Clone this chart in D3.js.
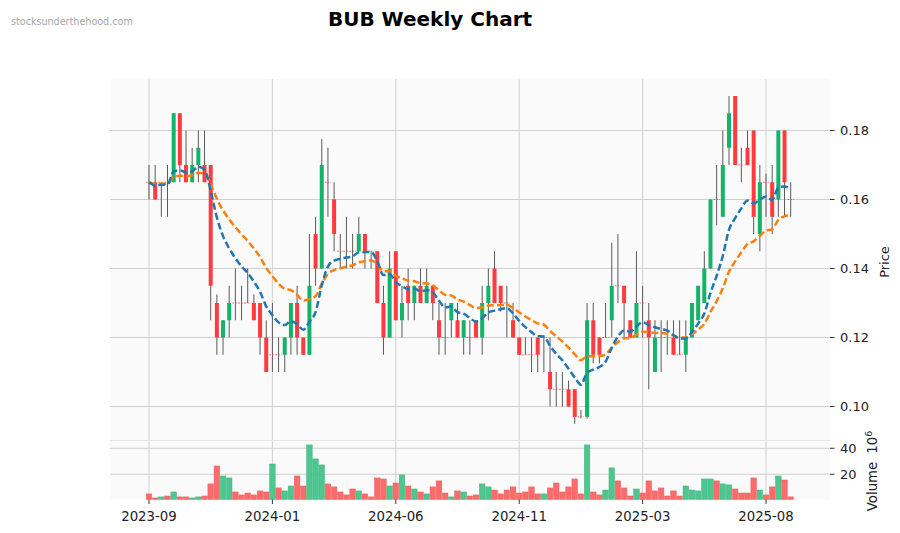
<!DOCTYPE html>
<html><head><meta charset="utf-8">
<script src="https://cdn.jsdelivr.net/npm/d3@7"></script>
<style>body{margin:0;background:#fff}svg{display:block;font-family:"DejaVu Sans",sans-serif}</style>
</head><body><svg id="c" width="900" height="533"></svg>
<script>
// ---- data ----
const tickIndex = [0, 20, 40, 60, 80, 100];
const tickLabels = ["2023-09", "2024-01", "2024-06", "2024-11", "2025-03", "2025-08"];
const priceTicks = [0.10, 0.12, 0.14, 0.16, 0.18];
const volumeTicks = [20, 40];

const open = [.165,.165,.165,.165,.165,.185,.17,.165,.17,.17,
.17,.13,.12,.125,.13,.13,.13,.13,.13,.12,
.115,.115,.115,.12,.13,.12,.115,.15,.14,.165,
.16,.145,.145,.145,.145,.15,.145,.145,.13,.12,
.145,.125,.135,.13,.135,.13,.135,.125,.12,.125,
.125,.12,.12,.125,.12,.13,.14,.135,.13,.125,
.12,.115,.115,.12,.12,.11,.105,.105,.105,.105,
.097,.097,.125,.12,.12,.125,.135,.135,.125,.12,
.13,.125,.11,.12,.12,.12,.115,.115,.12,.125,
.13,.14,.16,.155,.175,.19,.17,.175,.18,.15,
.165,.165,.16,.18,.16];
const high = [.17,.17,.165,.17,.185,.185,.18,.175,.18,.18,
.17,.1325,.125,.135,.14,.135,.14,.1325,.13,.125,
.13,.12,.12,.13,.135,.12,.15,.155,.1775,.175,
.165,.15,.155,.15,.155,.15,.145,.145,.135,.145,
.145,.135,.14,.135,.14,.14,.135,.13,.13,.13,
.13,.125,.125,.125,.135,.14,.145,.135,.135,.13,
.12,.12,.12,.12,.12,.12,.11,.11,.1075,.105,
.099,.13,.13,.12,.13,.1475,.15,.135,.125,.145,
.135,.13,.125,.125,.125,.125,.125,.125,.13,.135,
.145,.16,.17,.18,.19,.19,.175,.18,.18,.17,
.1675,.17,.18,.18,.165];
const low = [.16,.16,.155,.155,.165,.165,.165,.165,.165,.165,
.125,.115,.115,.12,.125,.125,.13,.125,.115,.11,
.11,.11,.11,.115,.115,.115,.115,.135,.14,.155,
.145,.14,.14,.14,.145,.14,.14,.13,.115,.12,
.125,.12,.125,.125,.13,.13,.125,.115,.115,.12,
.12,.115,.115,.12,.115,.125,.13,.1275,.12,.12,
.115,.115,.11,.11,.11,.10,.10,.10,.10,.095,
.0965,.0965,.1125,.1125,.12,.12,.13,.12,.12,.12,
.12,.105,.11,.11,.115,.115,.115,.11,.12,.125,
.13,.14,.1525,.155,.17,.17,.165,.17,.15,.145,
.155,.15,.155,.155,.155];
const close = [.165,.16,.165,.165,.185,.17,.165,.17,.175,.165,
.135,.12,.125,.13,.13,.13,.13,.125,.12,.11,
.115,.115,.12,.13,.12,.115,.135,.14,.17,.165,
.15,.145,.145,.145,.15,.145,.145,.13,.12,.14,
.125,.13,.13,.135,.13,.135,.13,.12,.12,.13,
.12,.125,.12,.12,.13,.135,.13,.13,.13,.12,
.115,.115,.115,.115,.12,.105,.105,.105,.10,.097,
.097,.125,.115,.115,.12,.135,.135,.13,.12,.13,
.13,.12,.12,.12,.12,.115,.115,.12,.13,.135,
.14,.16,.16,.17,.185,.17,.17,.17,.155,.165,
.165,.155,.18,.165,.16];
// volume in millions
const volume = [4.9,1.8,2.6,3.3,6.4,2.6,2.6,1.8,2.6,3.3,
12.6,26.4,18.7,17.2,6.4,4.1,5.6,4.1,7.2,6.4,
27.9,9.5,7.2,11,18.7,11,42.6,31.8,27.2,12.6,
10.3,6.4,4.1,8.7,7.2,4.9,2.6,17.2,16.4,11,
13.3,19.5,11,8.7,6.4,4.9,10.3,14.9,5.6,2.6,
7.2,6.4,3.3,4.1,12.6,10.3,7.9,4.9,7.9,10.3,
5.6,6.4,10.3,4.9,4.9,9.5,13.3,6.4,10.3,16.4,
4.9,42.6,6.4,4.1,7.9,24.9,14.9,9.5,3.3,8.7,
5.6,14.9,7.2,9.5,3.3,7.2,3.3,11,7.9,7.2,
16.4,16.4,14.9,12.6,11.8,8.7,5.6,5.6,17.2,7.9,
4.1,10.3,18.7,15.6,2.6];
// moving averages (thousandths of a dollar)
const ma10 = [165,164.091,164.256,164.391,168.138,168.477,167.845,168.237,169.467,168.655,
162.536,154.802,149.383,145.859,142.976,140.617,138.687,136.198,133.253,129.025,
126.475,124.389,123.591,124.756,123.891,122.274,124.588,127.390,135.137,140.567,
142.282,142.776,143.180,143.511,144.691,144.747,144.793,142.103,138.084,138.432,
135.990,134.901,134.010,134.190,133.428,133.714,133.039,130.668,128.728,128.959,
127.330,126.906,125.650,124.623,125.601,127.310,127.799,128.199,128.526,126.976,
124.799,123.017,121.559,120.366,120.299,117.517,115.241,113.379,110.946,108.410,
106.335,109.729,110.687,111.471,113.022,117.018,120.287,122.053,121.680,123.193,
124.431,123.625,122.966,122.427,121.986,120.716,119.677,119.736,121.602,124.038,
126.940,132.951,137.869,143.711,151.218,154.633,157.427,159.713,158.856,159.973,
160.887,159.817,163.487,163.762,163.078];
const ma20 = [165,164.524,164.569,164.610,166.552,166.880,166.701,167.015,167.775,167.511,
164.415,160.185,156.834,154.278,151.966,149.874,147.981,145.792,143.336,140.161,
137.765,135.597,134.112,133.720,132.413,130.755,131.159,132.001,135.620,138.418,
139.521,140.043,140.515,140.942,141.805,142.109,142.384,141.205,139.185,139.263,
137.905,137.152,136.471,136.331,135.728,135.659,135.120,133.680,132.377,132.151,
130.994,130.423,129.430,128.532,128.672,129.275,129.344,129.406,129.463,128.562,
127.270,126.101,125.044,124.087,123.698,121.917,120.306,118.848,117.053,115.143,
113.415,114.518,114.564,114.606,115.120,117.013,118.726,119.800,119.819,120.789,
121.666,121.507,121.363,121.233,121.116,120.534,120.007,120.006,120.958,122.295,
123.981,127.411,130.515,134.275,139.106,142.048,144.710,147.119,147.870,149.501,
150.977,151.360,154.088,155.127,155.591];

// ---- layout ----
const svg = d3.select("#c");
const L = 110, R = 830, pTop = 79, pBot = 440, vTop = 441, vBot = 499.5;
const UP = "#13b36a", DOWN = "#ff3b3f";
const VUP = "#4cc78f", VDOWN = "#ff6b6b";
const GRID = "#d0d0d0", TXT = "#222";

const n = close.length;
const idx = d3.range(n);
const x = d3.scaleLinear().domain([-6.32, 110.37]).range([L, R]);
const y = d3.scaleLinear().domain([0.09029, 0.19493]).range([pBot, pTop]);
const yv = d3.scaleLinear().domain([0.6, 45.6]).range([vBot, vTop]);

svg.append("rect").attr("width", 900).attr("height", 533).attr("fill", "#fff");

// panel backgrounds
svg.append("rect").attr("x", L).attr("y", pTop).attr("width", R - L).attr("height", pBot - pTop).attr("fill", "#fafafa");
svg.append("rect").attr("x", L).attr("y", vTop).attr("width", R - L).attr("height", vBot - vTop).attr("fill", "#fafafa");
svg.append("line").attr("x1", L).attr("x2", R).attr("y1", pBot + 0.5).attr("y2", pBot + 0.5).attr("stroke", "#e6e6e6");

// grids
const g = svg.append("g");
g.selectAll(".hp").data(priceTicks).join("line")
  .attr("x1", L).attr("x2", R).attr("y1", d => y(d)).attr("y2", d => y(d))
  .attr("stroke", GRID).attr("stroke-width", 1);
g.selectAll(".hv").data(volumeTicks).join("line")
  .attr("x1", L).attr("x2", R).attr("y1", d => yv(d)).attr("y2", d => yv(d))
  .attr("stroke", GRID).attr("stroke-width", 1);
tickIndex.forEach(t => {
  g.append("line").attr("x1", x(t)).attr("x2", x(t)).attr("y1", pTop).attr("y2", pBot).attr("stroke", GRID);
  g.append("line").attr("x1", x(t)).attr("x2", x(t)).attr("y1", vTop).attr("y2", vBot).attr("stroke", GRID);
});

// volume bars (colour by close vs previous close)
const vcol = i => (i > 0 && close[i] > close[i - 1]) ? VUP : VDOWN;
const bw = (x(1) - x(0)) * 0.9;
svg.append("g").selectAll("rect").data(idx).join("rect")
  .attr("x", i => x(i) - bw / 2).attr("width", bw)
  .attr("y", i => yv(volume[i])).attr("height", i => vBot - yv(volume[i]))
  .attr("fill", vcol).attr("stroke", i => d3.color(vcol(i)).darker(0.3)).attr("stroke-width", 0.5);

// candles
const cw = 4;
const cg = svg.append("g");
cg.selectAll(".wick").data(idx).join("line")
  .attr("x1", i => x(i)).attr("x2", i => x(i))
  .attr("y1", i => y(high[i])).attr("y2", i => y(low[i]))
  .attr("stroke", "#5a5a5a").attr("stroke-width", 1);
cg.selectAll(".body").data(idx.filter(i => open[i] !== close[i])).join("rect")
  .attr("x", i => x(i) - cw / 2).attr("width", cw)
  .attr("y", i => y(Math.max(open[i], close[i])))
  .attr("height", i => Math.abs(y(open[i]) - y(close[i])))
  .attr("fill", i => close[i] > open[i] ? UP : DOWN);
cg.selectAll(".doji").data(idx.filter(i => open[i] === close[i])).join("line")
  .attr("x1", i => x(i) - cw / 2 - 1).attr("x2", i => x(i) + cw / 2 + 1)
  .attr("y1", i => y(close[i])).attr("y2", i => y(close[i]))
  .attr("stroke", DOWN).attr("stroke-width", 1).attr("stroke-dasharray", "1.5,1.2").attr("opacity", 0.8);

// moving averages
const line = d3.line().x((d, i) => x(i)).y(d => y(d / 1000)).curve(d3.curveMonotoneX);
svg.append("path").attr("d", line(ma20)).attr("fill", "none").attr("stroke", "#ff7f0e")
  .attr("stroke-width", 2.5).attr("stroke-dasharray", "7,3.2");
svg.append("path").attr("d", line(ma10)).attr("fill", "none").attr("stroke", "#1f77b4")
  .attr("stroke-width", 2.5).attr("stroke-dasharray", "7,3.2");

// right axes
const ax = svg.append("g").attr("font-size", 13).attr("fill", TXT);
priceTicks.forEach(t => {
  ax.append("line").attr("x1", R).attr("x2", R + 4.5).attr("y1", y(t)).attr("y2", y(t)).attr("stroke", "#333");
  ax.append("text").attr("x", R + 10).attr("y", y(t)).attr("dy", "0.36em").text(t.toFixed(2));
});
volumeTicks.forEach(t => {
  ax.append("line").attr("x1", R).attr("x2", R + 4.5).attr("y1", yv(t)).attr("y2", yv(t)).attr("stroke", "#333");
  ax.append("text").attr("x", R + 10).attr("y", yv(t)).attr("dy", "0.36em").text(t);
});
// bottom axis
tickIndex.forEach((t, k) => {
  ax.append("line").attr("x1", x(t)).attr("x2", x(t)).attr("y1", vBot).attr("y2", vBot + 4.5).attr("stroke", "#333");
  ax.append("text").attr("x", x(t)).attr("y", 521).attr("text-anchor", "middle").attr("font-size", 13.3).text(tickLabels[k]);
});

// axis labels
svg.append("text").attr("transform", "translate(889,262) rotate(-90)").attr("text-anchor", "middle")
  .attr("font-size", 13).attr("fill", TXT).text("Price");
const vl = svg.append("text").attr("transform", "translate(877,471) rotate(-90)").attr("text-anchor", "middle")
  .attr("font-size", 13.3).attr("fill", TXT);
vl.append("tspan").text("Volume");
vl.append("tspan").attr("dx", 8).text("10");
vl.append("tspan").attr("font-size", 9.5).attr("dy", "-0.55em").text("6");

// title & watermark
svg.append("text").attr("x", 430).attr("y", 26).attr("text-anchor", "middle")
  .attr("font-size", 20).attr("font-weight", "bold").attr("fill", "#000").text("BUB Weekly Chart");
svg.append("text").attr("x", 11).attr("y", 25).attr("font-size", 9.6).attr("fill", "#a8a8a8").text("stocksunderthehood.com");
</script></body></html>
